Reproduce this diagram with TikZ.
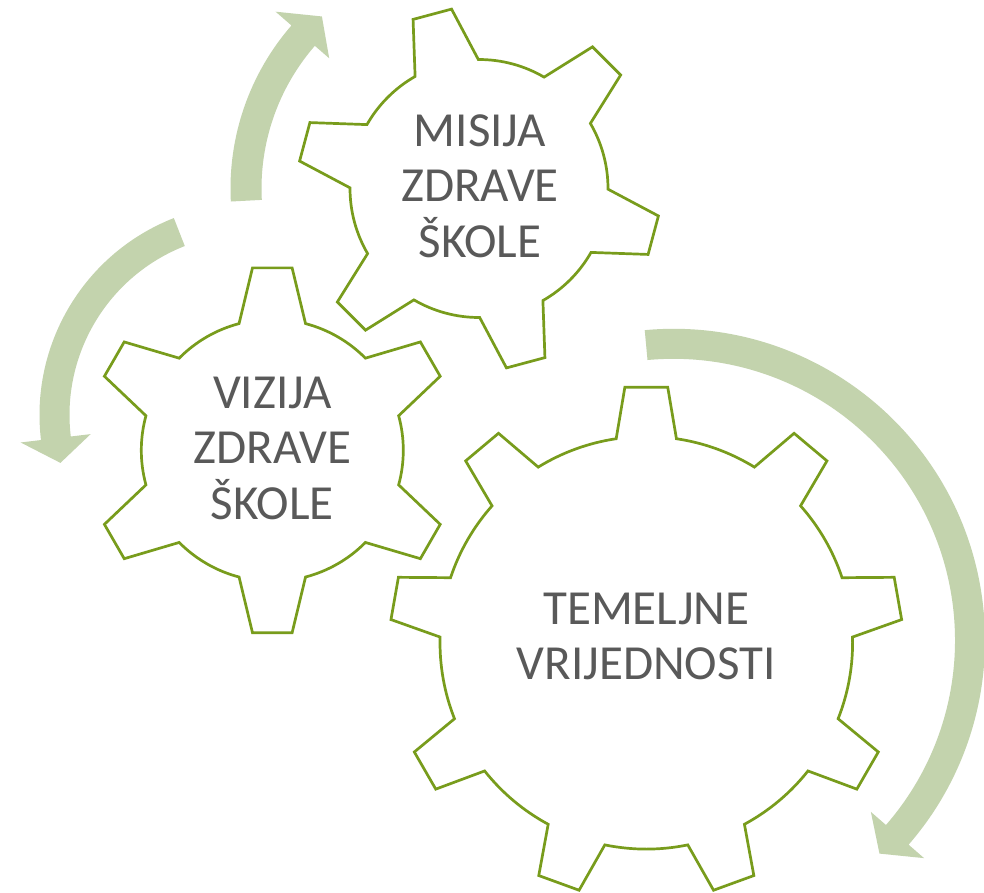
\documentclass[tikz,border=0pt]{standalone}
\usepackage{fontspec}
\setmainfont{Carlito}
\usetikzlibrary{calc}
\definecolor{gearcol}{HTML}{789C1C}
\definecolor{arrowcol}{HTML}{C3D3AD}
\definecolor{textcol}{HTML}{595959}
% #1 center, #2 teeth, #3 outer R, #4 root r, #5 outer half-angle, #6 base half-angle, #7 phase
\newcommand\mygear[7]{%
\begin{scope}[shift={#1}]
\draw[gearline] (#7-#6:#4pt)
  \foreach \k [evaluate=\k as \a using #7+(\k-1)*360/#2, evaluate=\k as \b using #7+\k*360/#2] in {1,...,#2}
  { -- (\a-#5:#3pt) -- (\a+#5:#3pt) -- (\a+#6:#4pt) arc[start angle=\a+#6, end angle=\b-#6, radius=#4pt] }
  -- cycle;
\end{scope}}
% #1 center, #2 Ri, #3 Ro, #4 tail angle, #5 head base angle, #6 tip angle, #7 barb out, #8 barb in, #9 mid
\newcommand\myarrow[9]{%
\begin{scope}[shift={#1}]
\fill[arrowcol] (#4:#3pt) arc[start angle=#4, end angle=#5, radius=#3pt]
  -- (#5:#7pt) -- (#6:#9pt) -- (#5:#8pt) -- (#5:#2pt)
  arc[start angle=#5, end angle=#4, radius=#2pt] -- cycle;
\end{scope}}
\begin{document}
\begin{tikzpicture}[x=1pt,y=1pt,
  gearline/.style={draw=gearcol, line width=2.7pt, fill=white, line join=miter},
  geartext/.style={text=textcol, align=center, inner sep=0pt,
    font=\fontsize{49}{55.5}\selectfont}]
\useasboundingbox[fill=white] (0,0) rectangle (984,-892);
% arrows
\myarrow{(479,-188.5)}{217.5}{248.5}{183}{139}{132.4}{269.5}{198.5}{233}
\myarrow{(251,-415)}{181.5}{211.5}{111.4}{186.8}{194.1}{232}{161.5}{196.5}
\myarrow{(673.5,-640.3)}{281.5}{311.5}{95.3}{-41}{-46}{332}{261.5}{296.5}
% gears
\mygear{(479,-188.5)}{6}{181.5}{129}{6.3}{14.7}{105}
\mygear{(272.3,-450.3)}{6}{183.5}{131}{6.2}{14.7}{90}
\mygear{(646.3,-642.8)}{9}{256.4}{206.3}{4.8}{8.4}{90}
% texts
\node[geartext] (misija) at (480,-186) {MISIJA\\ZDRAVE\\ŠKOLE};
\node[geartext] (vizija) at (272.3,-448.3) {VIZIJA\\ZDRAVE\\ŠKOLE};
\node[geartext] (temeljne) at (646.3,-636.5) {TEMELJNE\\VRIJEDNOSTI};
\end{tikzpicture}
\end{document}
